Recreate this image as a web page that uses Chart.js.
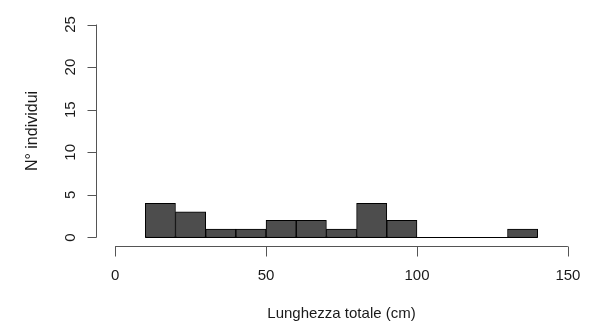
<!DOCTYPE html>
<html>
<head>
<meta charset="utf-8">
<script src="https://cdn.jsdelivr.net/npm/chart.js@4/dist/chart.umd.min.js"></script>
<style>
  html, body { margin: 0; padding: 0; background: #ffffff; }
  #wrap { width: 597px; height: 323px; }
</style>
</head>
<body>
<div id="wrap"><canvas id="c"></canvas></div>
<script>
// Histogram of total length: bin lower edges (cm), bin width and counts
const binStarts = [10, 20, 30, 40, 50, 60, 70, 80, 90, 100, 110, 120, 130];
const binWidth = 10;
const counts = [4, 3, 1, 1, 2, 2, 1, 4, 2, 0, 0, 0, 1];
const xTicks = [0, 50, 100, 150];
const yTicks = [0, 5, 10, 15, 20, 25];
const xTitle = 'Lunghezza totale (cm)';
const yTitle = 'N° individui';

const FONT = '"Liberation Sans", Arial, sans-serif';

// Base-graphics style axes: detached, drawn only across the tick range
const rAxes = {
  id: 'rAxes',
  afterDraw(chart) {
    const ctx = chart.ctx;
    const xs = chart.scales.x, ys = chart.scales.y;
    const area = chart.chartArea;
    ctx.save();
    ctx.strokeStyle = '#555555';
    ctx.lineWidth = 1;
    ctx.fillStyle = '#1a1a1a';
    ctx.font = '15px ' + FONT;

    // x axis
    const xa = Math.round(area.bottom) + 0.5;
    const x0 = xs.getPixelForValue(xTicks[0]);
    const x1 = xs.getPixelForValue(xTicks[xTicks.length - 1]);
    ctx.beginPath();
    ctx.moveTo(x0, xa); ctx.lineTo(x1, xa);
    xTicks.forEach(v => {
      const p = Math.round(xs.getPixelForValue(v)) + 0.5;
      ctx.moveTo(p, xa); ctx.lineTo(p, xa + 10);
    });
    ctx.stroke();
    ctx.textAlign = 'center';
    ctx.textBaseline = 'middle';
    xTicks.forEach(v => ctx.fillText(String(v), xs.getPixelForValue(v), xa + 29));

    // y axis
    const ya = Math.round(area.left) - 0.5;
    const y0 = ys.getPixelForValue(yTicks[0]);
    const y1 = ys.getPixelForValue(yTicks[yTicks.length - 1]);
    ctx.beginPath();
    ctx.moveTo(ya, y0); ctx.lineTo(ya, y1);
    yTicks.forEach(v => {
      const p = Math.round(ys.getPixelForValue(v)) + 0.5;
      ctx.moveTo(ya, p); ctx.lineTo(ya - 9, p);
    });
    ctx.stroke();
    yTicks.forEach(v => {
      ctx.save();
      ctx.translate(ya - 26, ys.getPixelForValue(v));
      ctx.rotate(-Math.PI / 2);
      ctx.fillText(String(v), 0, 0);
      ctx.restore();
    });

    // axis titles
    ctx.fillText(xTitle, (xs.left + xs.right) / 2, xa + 67);
    ctx.save();
    ctx.font = '16px ' + FONT;
    ctx.translate(33, (area.top + area.bottom) / 2);
    ctx.rotate(-Math.PI / 2);
    ctx.fillText(yTitle, 0, 0);
    ctx.restore();
    ctx.restore();
  }
};

// Bottom edges of every bin, so empty bins still show as a flat line
const binBase = {
  id: 'binBase',
  afterDatasetsDraw(chart) {
    const ctx = chart.ctx;
    const xs = chart.scales.x, ys = chart.scales.y;
    const y = Math.round(ys.getPixelForValue(0)) + 0.5;
    ctx.save();
    ctx.strokeStyle = '#000000';
    ctx.lineWidth = 1;
    ctx.beginPath();
    ctx.moveTo(xs.getPixelForValue(binStarts[0]), y);
    ctx.lineTo(xs.getPixelForValue(binStarts[binStarts.length - 1] + binWidth), y);
    ctx.stroke();
    ctx.restore();
  }
};

const barData = binStarts.map((s, i) => ({ x: s + binWidth / 2, y: counts[i] }));

new Chart(document.getElementById('c'), {
  type: 'bar',
  data: {
    datasets: [{
      data: barData,
      backgroundColor: '#4d4d4d',
      borderColor: '#000000',
      borderWidth: 1,
      barPercentage: 1.0,
      categoryPercentage: 1.0,
      borderSkipped: false
    }]
  },
  options: {
    responsive: true,
    maintainAspectRatio: false,
    animation: false,
    layout: { padding: { left: 97, right: 11, top: 16, bottom: 77 } },
    plugins: { legend: { display: false }, tooltip: { enabled: false } },
    scales: {
      x: { type: 'linear', min: -6, max: 156, display: false, offset: false },
      y: { type: 'linear', min: -1, max: 26, display: false }
    }
  },
  plugins: [binBase, rAxes]
});
</script>
</body>
</html>
